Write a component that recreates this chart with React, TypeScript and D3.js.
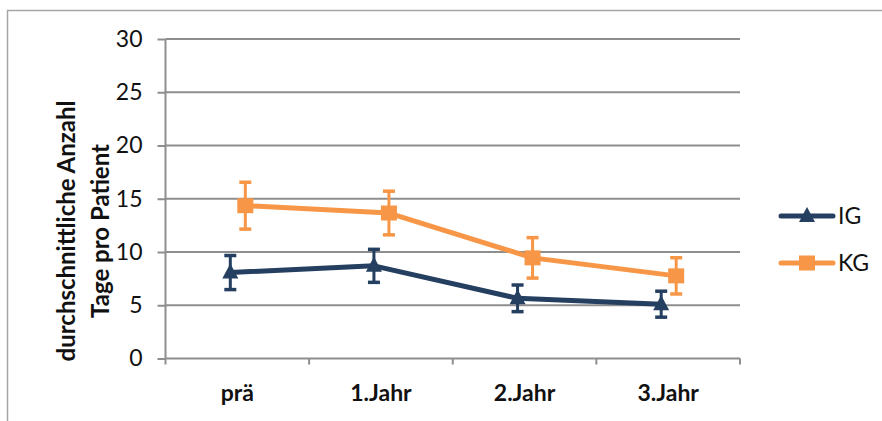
import { useRef, useEffect } from 'react';
import * as d3 from 'd3';

const CATEGORIES = ['prä', '1.Jahr', '2.Jahr', '3.Jahr'];
const IG_MEAN = [8.07, 8.7, 5.65, 5.1];
const IG_ERR = [1.6, 1.55, 1.25, 1.22];
const KG_MEAN = [14.35, 13.66, 9.45, 7.76];
const KG_ERR = [2.2, 2.05, 1.9, 1.7];
const Y_TICKS = [0, 5, 10, 15, 20, 25, 30];

const IG_COLOR = '#243f60';
const KG_COLOR = '#f79646';
const GRID = '#8e8e8e';
const FONT = 'Lato, "Open Sans", sans-serif';

const W = 882;
const H = 421;

export default function App() {
  const svgRef = useRef<SVGSVGElement>(null);

  useEffect(() => {
    const svg = d3.select(svgRef.current);
    svg.selectAll('*').remove();

    const left = 165.5, right = 740, top = 39, bottom = 358.5;
    const x = d3.scaleBand<string>().domain(CATEGORIES).range([left, right]);
    const y = d3.scaleLinear().domain([0, 30]).range([bottom, top]);

    // outer chart frame
    svg.append('path')
      .attr('d', `M7.5,${H + 2} V10.5 H${W + 2}`)
      .attr('fill', 'none')
      .attr('stroke', '#a6a6a6')
      .attr('stroke-width', 1.5);

    // grid
    svg.append('g')
      .selectAll('line')
      .data(Y_TICKS.filter(t => t > 0))
      .join('line')
      .attr('x1', left).attr('x2', right)
      .attr('y1', d => y(d)).attr('y2', d => y(d))
      .attr('stroke', GRID)
      .attr('stroke-width', 2);

    // y axis
    svg.append('g')
      .attr('transform', `translate(${left},0)`)
      .call(d3.axisLeft(y).tickValues(Y_TICKS).tickSize(8).tickPadding(15).tickFormat(d3.format('d')))
      .call(sel => {
        sel.select('.domain').attr('stroke', GRID).attr('stroke-width', 2).attr('d', `M0,${top}V${bottom}`);
        sel.selectAll('line').attr('stroke', GRID).attr('stroke-width', 2);
        sel.selectAll('text')
          .attr('fill', '#111')
          .attr('font-family', FONT)
          .attr('font-size', 23);
      });

    // x axis
    svg.append('g')
      .attr('transform', `translate(0,${bottom})`)
      .call(d3.axisBottom(x).tickSize(0).tickPadding(26))
      .call(sel => {
        sel.select('.domain').attr('stroke', GRID).attr('stroke-width', 2).attr('d', `M${left},0H${right}`);
        sel.selectAll('text')
          .attr('fill', '#111')
          .attr('font-family', FONT)
          .attr('font-weight', 700)
          .attr('font-size', 23);
      });
    svg.append('g')
      .selectAll('line')
      .data(d3.range(CATEGORIES.length + 1))
      .join('line')
      .attr('x1', i => left + i * x.bandwidth())
      .attr('x2', i => left + i * x.bandwidth())
      .attr('y1', bottom).attr('y2', bottom + 6)
      .attr('stroke', GRID)
      .attr('stroke-width', 2);

    // y title
    const title = svg.append('text')
      .attr('transform', `translate(0,231) rotate(-90)`)
      .attr('text-anchor', 'middle')
      .attr('font-family', FONT)
      .attr('font-weight', 700)
      .attr('font-size', 24)
      .attr('fill', '#111');
    title.append('tspan').attr('x', 0).attr('y', 75).text('durchschnittliche Anzahl');
    title.append('tspan').attr('x', 0).attr('y', 109).text('Tage pro Patient');

    const series = [
      { name: 'IG', mean: IG_MEAN, err: IG_ERR, color: IG_COLOR, dx: -7, marker: 'tri' },
      { name: 'KG', mean: KG_MEAN, err: KG_ERR, color: KG_COLOR, dx: 8, marker: 'sq' },
    ];

    const drawMarker = (g: d3.Selection<SVGGElement, unknown, null, undefined>, kind: string, cx: number, cy: number, color: string) => {
      if (kind === 'sq') {
        g.append('rect').attr('x', cx - 8).attr('y', cy - 7.5).attr('width', 16).attr('height', 15).attr('fill', color);
      } else {
        g.append('path')
          .attr('d', `M${cx},${cy - 9}L${cx + 8},${cy + 6}L${cx - 8},${cy + 6}Z`)
          .attr('fill', color);
      }
    };

    for (const s of series) {
      const g = svg.append('g');
      const px = (i: number) => x(CATEGORIES[i])! + x.bandwidth() / 2 + s.dx;
      const line = d3.line<number>().x((_, i) => px(i)).y(d => y(d));
      g.append('path')
        .attr('d', line(s.mean))
        .attr('fill', 'none')
        .attr('stroke', s.color)
        .attr('stroke-width', 5)
        .attr('stroke-linejoin', 'round');

      s.mean.forEach((m, i) => {
        const cx = px(i);
        const hi = y(m + s.err[i]);
        const lo = y(m - s.err[i]);
        g.append('line').attr('x1', cx).attr('x2', cx).attr('y1', hi).attr('y2', lo)
          .attr('stroke', s.color).attr('stroke-width', 3);
        for (const yy of [hi, lo]) {
          g.append('line').attr('x1', cx - 6).attr('x2', cx + 6).attr('y1', yy).attr('y2', yy)
            .attr('stroke', s.color).attr('stroke-width', 3.5);
        }
        drawMarker(g, s.marker, cx, y(m), s.color);
      });
    }

    // legend
    series.forEach((s, i) => {
      const ly = 216 + i * 47;
      const g = svg.append('g');
      g.append('line').attr('x1', 781).attr('x2', 833).attr('y1', ly).attr('y2', ly)
        .attr('stroke', s.color).attr('stroke-width', 5).attr('stroke-linecap', 'round');
      drawMarker(g, s.marker, 807, ly, s.color);
      g.append('text')
        .attr('x', 838).attr('y', ly + 8)
        .attr('font-family', FONT)
        .attr('font-size', 23)
        .attr('fill', '#111')
        .text(s.name);
    });
  }, []);

  return (
    <div style={{ position: 'absolute', left: 0, top: 0, width: W, height: H, background: '#fff' }}>
      <svg ref={svgRef} width={W} height={H} style={{ display: 'block' }} />
    </div>
  );
}
